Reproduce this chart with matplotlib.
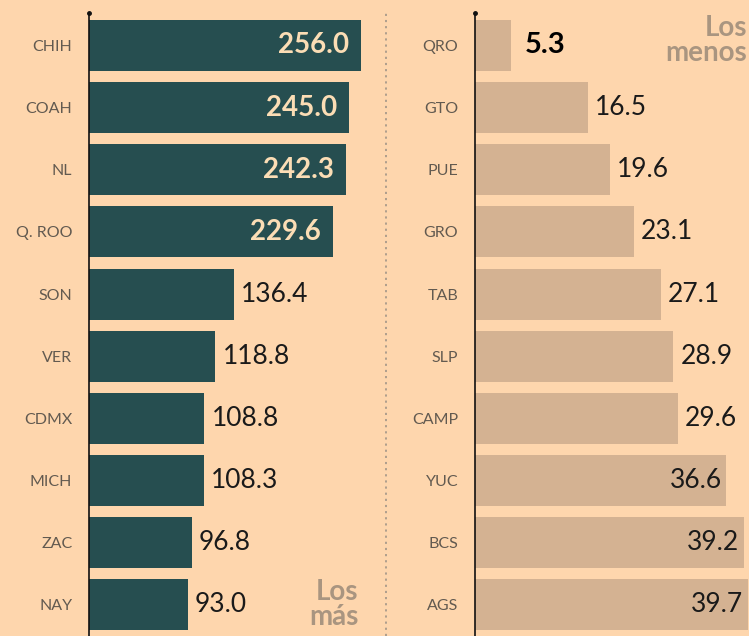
import matplotlib
matplotlib.use("Agg")
import matplotlib.pyplot as plt
from matplotlib.lines import Line2D

plt.rcParams["font.family"] = ["Lato", "DejaVu Sans"]

# Data
mas_states = ["CHIH", "COAH", "NL", "Q. ROO", "SON", "VER", "CDMX", "MICH", "ZAC", "NAY"]
mas_values = [256.0, 245.0, 242.3, 229.6, 136.4, 118.8, 108.8, 108.3, 96.8, 93.0]
menos_states = ["QRO", "GTO", "PUE", "GRO", "TAB", "SLP", "CAMP", "YUC", "BCS", "AGS"]
menos_values = [5.3, 16.5, 19.6, 23.1, 27.1, 28.9, 29.6, 36.6, 39.2, 39.7]

bg = "#FED6AD"
dark = "#264E50"
tan = "#D4B292"
cream = "#FBDDB5"
title_col = "#A99580"
label_col = "#625a50"
num_col = "#1a1a1a"

fig = plt.figure(figsize=(7.49, 6.36), dpi=100, facecolor=bg)

top = 1 - 13 / 636


def setup(ax, states, xmax):
    ax.set_facecolor(bg)
    ax.set_xlim(0, xmax)
    ax.set_ylim(9.5, -0.52)
    ax.set_yticks(range(len(states)))
    ax.set_yticklabels(states, fontsize=11.5, color=label_col, fontweight="normal")
    ax.tick_params(axis="y", length=0, pad=12)
    ax.set_xticks([])
    for s in ["top", "right", "bottom"]:
        ax.spines[s].set_visible(False)
    ax.spines["left"].set_color("#111111")
    ax.spines["left"].set_linewidth(1.2)
    ax.plot([0], [-0.52], marker="o", markersize=2.5, color="#111111", clip_on=False)


# Left panel: los más
ax1 = fig.add_axes([89 / 749, 0, (386 - 89) / 749, top])
setup(ax1, mas_states, 280)
ax1.barh(range(len(mas_values)), mas_values, height=0.82, color=dark)
for i, v in enumerate(mas_values):
    if v > 200:
        ax1.text(v - 11, i, f"{v:.1f}", ha="right", va="center", fontsize=20,
                 fontweight="bold", color=cream)
    else:
        ax1.text(v + 7, i, f"{v:.1f}", ha="left", va="center", fontsize=19,
                 fontweight="normal", color=num_col)
ax1.text(254, 9.0, "Los\nmás", ha="right", va="center", fontsize=20,
         fontweight="bold", color=title_col, linespacing=0.95)

# Right panel: los menos
ax2 = fig.add_axes([475 / 749, 0, (749 - 475) / 749, top])
setup(ax2, menos_states, 39.9)
ax2.barh(range(len(menos_values)), menos_values, height=0.82, color=tan)
for i, v in enumerate(menos_values):
    if i == 0:
        ax2.text(v + 1.9, i, f"{v:.1f}", ha="left", va="center", fontsize=21,
                 fontweight="bold", color="#000000")
    elif v > 35:
        ax2.text(v - 0.7, i, f"{v:.1f}", ha="right", va="center", fontsize=19,
                 fontweight="normal", color=num_col)
    else:
        ax2.text(v + 1.0, i, f"{v:.1f}", ha="left", va="center", fontsize=19,
                 fontweight="normal", color=num_col)
ax2.text(39.6, -0.08, "Los\nmenos", ha="right", va="center", fontsize=20,
         fontweight="bold", color=title_col, linespacing=0.95)

# Dotted divider
fig.add_artist(Line2D([386 / 749, 386 / 749], [0, 1 - 10 / 636], transform=fig.transFigure,
                      color="#A89A8A", linestyle=(0, (1.2, 2.2)), linewidth=1.3))

fig.savefig("out.png", dpi=100, facecolor=bg)
